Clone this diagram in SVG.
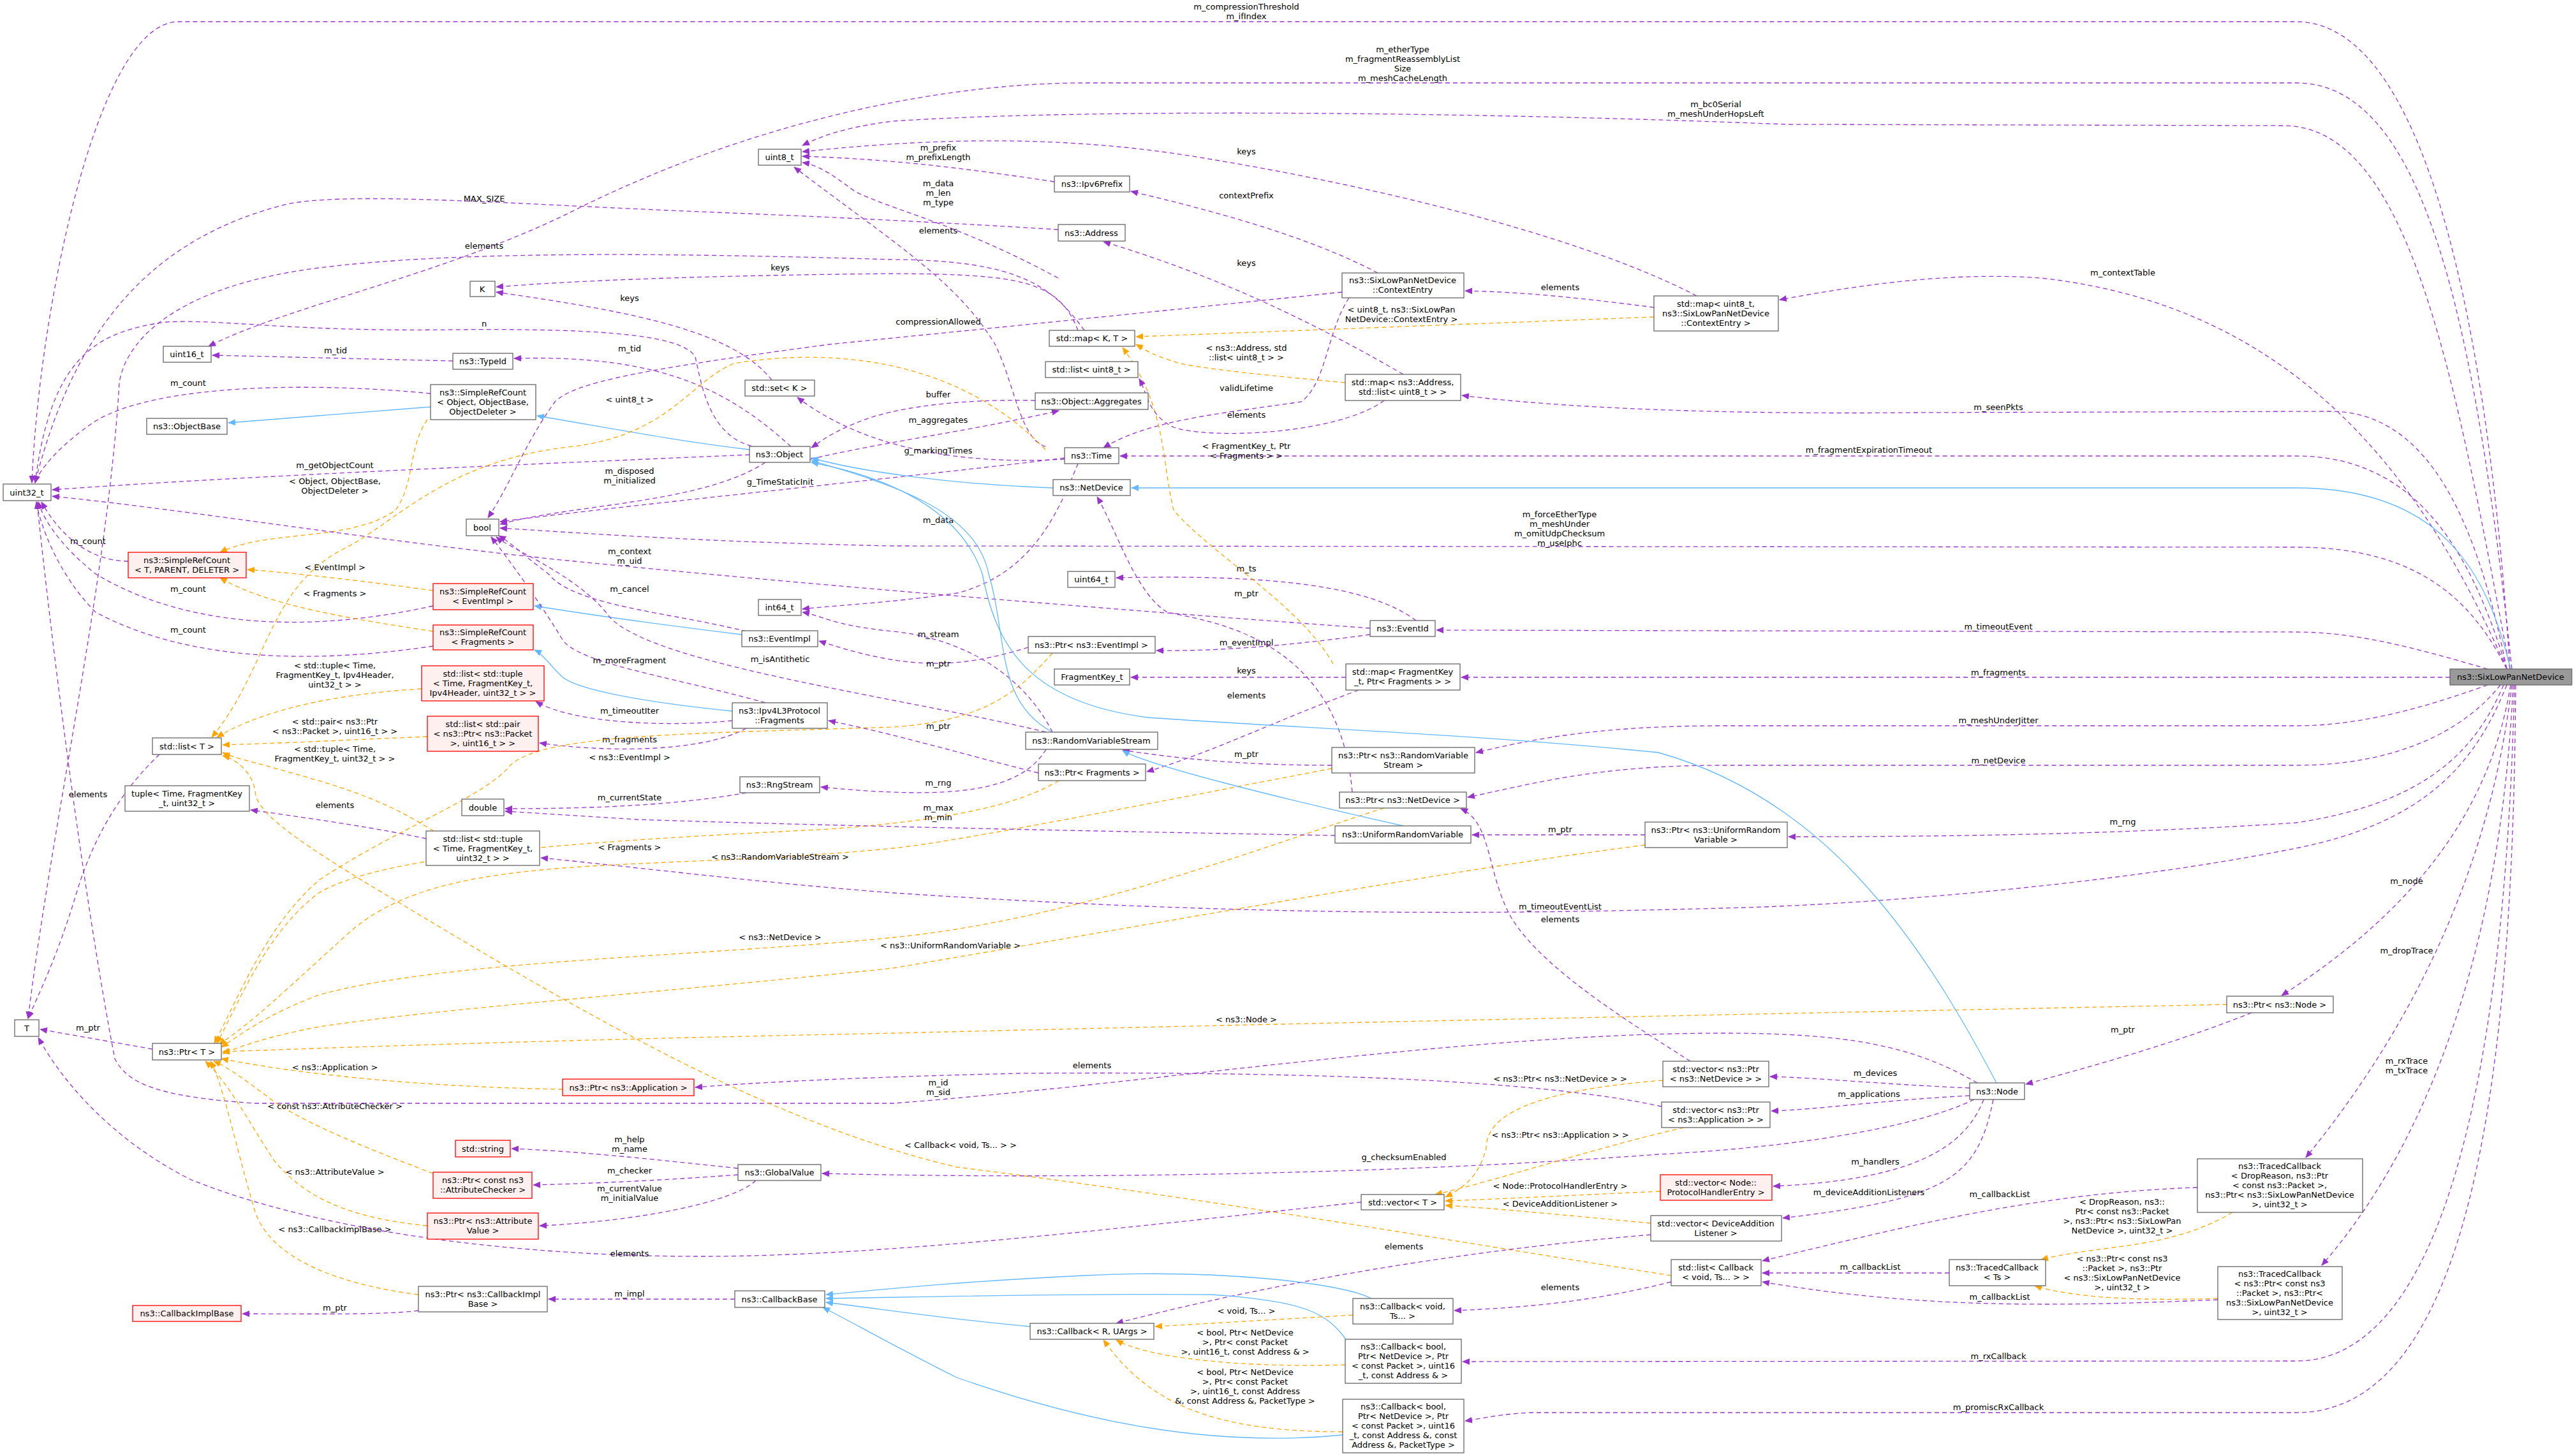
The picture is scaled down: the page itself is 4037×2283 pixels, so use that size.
<svg xmlns="http://www.w3.org/2000/svg" width="4037" height="2283" viewBox="0 0 4037 2283">
<style>
text{font-family:"DejaVu Sans","Liberation Sans",sans-serif;font-size:13px;fill:#000;text-anchor:middle}
.nd rect{fill:#fff;stroke:#666;stroke-width:1.3}
.rd rect{fill:#fff0f0;stroke:#f00;stroke-width:1.3}
.mn rect{fill:#999;stroke:#666;stroke-width:1.3}
.e{fill:none;stroke:#9a32cd;stroke-width:1.3;stroke-dasharray:7,5;marker-end:url(#mp)}
.o{fill:none;stroke:#ffa500;stroke-width:1.3;stroke-dasharray:7,5;marker-end:url(#mo)}
.b{fill:none;stroke:#63b8ff;stroke-width:1.3;marker-end:url(#mb)}
</style>
<defs>
<marker id="mp" markerWidth="12" markerHeight="10" refX="11" refY="5" orient="auto" markerUnits="userSpaceOnUse"><path d="M0,0L12,5L0,10z" fill="#9a32cd"/></marker>
<marker id="mo" markerWidth="12" markerHeight="10" refX="11" refY="5" orient="auto" markerUnits="userSpaceOnUse"><path d="M0,0L12,5L0,10z" fill="#ffa500"/></marker>
<marker id="mb" markerWidth="12" markerHeight="10" refX="11" refY="5" orient="auto" markerUnits="userSpaceOnUse"><path d="M0,0L12,5L0,10z" fill="#63b8ff"/></marker>
</defs>
<rect width="4037" height="2283" fill="#fff"/>
<g id="edges">
<path class="e" d="M3935,1049 C3900,500 3800,34 3600,34 L280,34 C150,34 60,500 50,757"/>
<text x="1954" y="15">m_compressionThreshold</text><text x="1954" y="30">m_ifIndex</text>
<path class="e" d="M3938,1049 C3880,500 3800,130 3600,130 L1700,130 C1500,130 1200,180 900,330 C700,430 450,480 327,543"/>
<text x="2199" y="82">m_etherType</text><text x="2199" y="97">m_fragmentReassemblyList</text><text x="2199" y="112">Size</text><text x="2199" y="127">m_meshCacheLength</text>
<path class="e" d="M3935,1049 C3850,600 3780,197 3580,197 L2800,195 C2300,175 1700,170 1400,190 C1320,200 1285,215 1258,228"/>
<text x="2690" y="168">m_bc0Serial</text><text x="2690" y="183">m_meshUnderHopsLeft</text>
<path class="e" d="M3930,1049 C3800,750 3600,480 3200,436 C3050,425 2900,450 2790,470"/>
<text x="3328" y="432">m_contextTable</text>
<path class="e" d="M3930,1049 C3880,800 3800,643 3650,645 L3000,647 C2700,650 2450,640 2292,620"/>
<text x="3133" y="643">m_seenPkts</text>
<path class="e" d="M3930,1049 C3870,850 3780,715 3600,715 L1756,715"/>
<text x="2930" y="710">m_fragmentExpirationTimeout</text>
<path class="b" d="M3936,1049 C3900,900 3830,765 3600,765 L1774,765"/>
<path class="e" d="M3930,1049 C3880,950 3800,858 3600,858 L1400,856 C1100,850 900,835 784,828"/>
<text x="2445" y="811">m_forceEtherType</text><text x="2445" y="826">m_meshUnder</text><text x="2445" y="841">m_omitUdpChecksum</text><text x="2445" y="856">m_useIphc</text>
<path class="e" d="M3900,1049 C3800,1020 3700,991 3600,991 L2252,988"/>
<text x="3133" y="987">m_timeoutEvent</text>
<path class="e" d="M3841,1062 L2291,1062"/>
<text x="3133" y="1059">m_fragments</text>
<path class="e" d="M3900,1074 C3800,1110 3700,1138 3600,1138 L2700,1138 C2500,1138 2400,1160 2314,1180"/>
<text x="3133" y="1134">m_meshUnderJitter</text>
<path class="e" d="M3920,1074 C3860,1150 3750,1200 3600,1200 L2700,1200 C2500,1200 2400,1230 2301,1250"/>
<text x="3133" y="1197">m_netDevice</text>
<path class="e" d="M3925,1074 C3880,1180 3800,1260 3600,1290 C3300,1310 3000,1312 2804,1312"/>
<text x="3328" y="1293">m_rng</text>
<path class="e" d="M3930,1074 C3880,1200 3800,1290 3600,1330 C3300,1390 2900,1420 2700,1424 C2400,1432 2000,1440 1400,1400 C1200,1385 1000,1360 848,1345"/>
<text x="2446" y="1426">m_timeoutEventList</text>
<path class="e" d="M3936,1074 C3900,1300 3750,1450 3577,1561"/>
<text x="3773" y="1386">m_node</text>
<path class="e" d="M3938,1074 C3900,1400 3750,1650 3615,1815"/>
<text x="3773" y="1495">m_dropTrace</text>
<path class="e" d="M3940,1074 C3920,1500 3800,1800 3640,1984"/>
<text x="3773" y="1668">m_rxTrace</text><text x="3773" y="1683">m_txTrace</text>
<path class="e" d="M3942,1074 C3930,1600 3850,2134 3600,2134 L2293,2135"/>
<text x="3133" y="2131">m_rxCallback</text>
<path class="e" d="M3944,1074 C3940,1700 3870,2215 3600,2215 L2400,2215 C2350,2217 2320,2225 2297,2228"/>
<text x="3133" y="2211">m_promiscRxCallback</text>
<path class="e" d="M3100,1698 C3000,1640 2900,1620 2700,1620 C2300,1620 1800,1700 1400,1730 L400,1730 C250,1720 200,1700 180,1660 C130,1400 80,1000 58,787"/>
<text x="1471" y="1702">m_id</text><text x="1471" y="1717">m_sid</text>
<path class="e" d="M1639,700 C1600,690 1590,600 1560,540 C1500,440 1400,380 1245,262"/>
<text x="1471" y="366">elements</text>
<path class="e" d="M1190,702 C1110,690 1100,600 1090,560 C1070,520 900,515 700,517 C450,520 350,500 260,505 C150,520 80,560 55,757"/>
<text x="759" y="512">n</text>
<path class="e" d="M710,566 L333,557"/>
<text x="526" y="554">m_tid</text>
<path class="e" d="M1240,700 C1150,620 1050,555 806,562"/>
<text x="987" y="551">m_tid</text>
<path class="e" d="M675,617 C500,600 250,600 150,660 C90,700 60,740 55,757"/>
<text x="295" y="605">m_count</text>
<path class="b" d="M675,638 L358,663"/>
<path class="b" d="M1175,705 C1050,690 950,670 842,652"/>
<path class="e" d="M1175,713 C900,725 400,745 82,768"/>
<text x="525" y="734">m_getObjectCount</text>
<path class="e" d="M1210,596 C1150,520 1000,490 778,458"/>
<text x="987" y="472">keys</text>
<path class="e" d="M1690,518 C1660,440 1600,430 1400,429 C1100,432 900,440 778,450"/>
<text x="1223" y="424">keys</text>
<path class="e" d="M1700,518 C1650,450 1600,408 1400,407 C1000,395 700,395 500,420 C300,445 200,520 187,600 C170,900 80,1300 44,1597"/>
<text x="759" y="390">elements</text>
<path class="e" d="M1659,360 C1500,350 1300,340 1100,332 C800,320 550,300 450,320 C250,370 120,500 55,757"/>
<text x="759" y="316">MAX_SIZE</text>
<path class="o" d="M1639,705 C1500,560 1300,545 1150,570 C1080,600 1050,680 900,700 C700,720 620,820 540,860 C420,920 420,1050 332,1156"/>
<text x="987" y="631">&lt; uint8_t &gt;</text>
<path class="o" d="M670,658 C640,700 650,760 620,800 C550,850 420,830 345,866"/>
<text x="525" y="759">&lt; Object, ObjectBase,</text><text x="525" y="774">ObjectDeleter &gt;</text>
<path class="e" d="M201,880 C150,880 100,850 65,787"/>
<text x="138" y="853">m_count</text>
<path class="e" d="M679,950 C500,990 300,990 150,900 C100,860 70,820 60,787"/>
<text x="295" y="928">m_count</text>
<path class="e" d="M679,1013 C500,1040 300,1040 150,960 C90,900 62,820 57,787"/>
<text x="295" y="992">m_count</text>
<path class="o" d="M679,926 C600,915 480,900 388,893"/>
<text x="525" y="894">&lt; EventImpl &gt;</text>
<path class="o" d="M679,990 C550,970 420,950 345,906"/>
<text x="525" y="935">&lt; Fragments &gt;</text>
<path class="b" d="M1163,995 C1000,975 900,960 838,950"/>
<path class="b" d="M1148,1115 C1000,1100 900,1080 880,1060 C860,1040 850,1025 838,1019"/>
<path class="e" d="M1170,990 C1050,960 900,950 860,900 C820,870 800,850 782,840"/>
<text x="987" y="928">m_cancel</text>
<path class="e" d="M1200,725 C1100,790 900,790 784,822"/>
<text x="987" y="743">m_disposed</text><text x="987" y="758">m_initialized</text>
<path class="e" d="M1669,718 C1500,740 1000,790 784,818"/>
<text x="1223" y="760">g_TimeStaticInit</text>
<path class="e" d="M1200,1102 C1050,1060 900,1040 880,1000 C850,950 800,880 770,842"/>
<text x="987" y="1040">m_moreFragment</text>
<path class="e" d="M1640,1148 C1400,1090 1000,1040 950,960 C900,900 800,860 778,842"/>
<text x="1223" y="1038">m_isAntithetic</text>
<path class="e" d="M1148,1130 C1050,1140 900,1135 840,1100"/>
<text x="987" y="1119">m_timeoutIter</text>
<path class="e" d="M1170,1142 C1100,1180 950,1180 846,1165"/>
<text x="987" y="1164">m_fragments</text>
<path class="o" d="M661,1080 C500,1090 400,1120 340,1156"/>
<text x="525" y="1048">&lt; std::tuple&lt; Time,</text><text x="525" y="1063">FragmentKey_t, Ipv4Header,</text><text x="525" y="1078">uint32_t &gt; &gt;</text>
<path class="o" d="M670,1155 C550,1160 450,1165 349,1168"/>
<text x="525" y="1136">&lt; std::pair&lt; ns3::Ptr</text><text x="525" y="1151">&lt; ns3::Packet &gt;, uint16_t &gt; &gt;</text>
<path class="o" d="M680,1303 C640,1280 600,1250 450,1210 C400,1195 370,1190 349,1180"/>
<text x="525" y="1179">&lt; std::tuple&lt; Time,</text><text x="525" y="1194">FragmentKey_t, uint32_t &gt; &gt;</text>
<path class="e" d="M668,1315 C600,1300 500,1285 393,1270"/>
<text x="525" y="1267">elements</text>
<path class="e" d="M250,1183 C200,1230 150,1300 120,1400 C90,1500 60,1560 44,1597"/>
<text x="138" y="1250">elements</text>
<path class="o" d="M2620,2000 C2300,1950 1900,1880 1500,1830 C1200,1760 900,1580 600,1400 C450,1310 400,1270 400,1240 C395,1210 370,1190 349,1185"/>
<text x="1506" y="1800">&lt; Callback&lt; void, Ts... &gt; &gt;</text>
<path class="e" d="M239,1645 L63,1614"/>
<text x="138" y="1616">m_ptr</text>
<path class="e" d="M656,2055 C600,2062 500,2060 380,2060"/>
<text x="525" y="2055">m_ptr</text>
<path class="e" d="M1152,2037 L860,2037"/>
<text x="987" y="2033">m_impl</text>
<path class="o" d="M656,2030 C500,2010 420,1960 400,1900 C370,1800 350,1700 330,1664"/>
<text x="525" y="1932">&lt; ns3::CallbackImplBase &gt;</text>
<path class="o" d="M670,1922 C550,1910 480,1880 430,1820 C390,1760 360,1700 322,1664"/>
<text x="525" y="1842">&lt; ns3::AttributeValue &gt;</text>
<path class="o" d="M679,1840 C600,1810 470,1760 420,1720 C380,1690 355,1672 335,1664"/>
<text x="525" y="1739">&lt; const ns3::AttributeChecker &gt;</text>
<path class="o" d="M882,1708 C700,1705 500,1690 347,1660"/>
<text x="525" y="1678">&lt; ns3::Application &gt;</text>
<path class="e" d="M1157,1832 C1000,1815 900,1805 802,1801"/>
<text x="987" y="1791">m_help</text><text x="987" y="1806">m_name</text>
<path class="e" d="M1157,1842 C1050,1850 950,1855 836,1858"/>
<text x="987" y="1840">m_checker</text>
<path class="e" d="M1185,1851 C1150,1885 1000,1915 846,1922"/>
<text x="987" y="1868">m_currentValue</text><text x="987" y="1883">m_initialValue</text>
<path class="o" d="M3491,1575 C3000,1585 2000,1605 1400,1620 C900,1630 600,1640 349,1649"/>
<text x="1954" y="1603">&lt; ns3::Node &gt;</text>
<path class="o" d="M2579,1325 C2300,1360 1800,1450 1400,1518 C1000,1560 700,1580 500,1610 C420,1625 380,1640 349,1652"/>
<text x="1490" y="1487">&lt; ns3::UniformRandomVariable &gt;</text>
<path class="o" d="M2170,1267 C2000,1320 1700,1440 1400,1470 C1100,1500 700,1505 500,1560 C420,1590 380,1620 347,1642"/>
<text x="1223" y="1474">&lt; ns3::NetDevice &gt;</text>
<path class="o" d="M2088,1205 C1800,1260 1500,1320 1400,1330 C1000,1370 700,1330 550,1460 C450,1550 400,1600 343,1638"/>
<text x="1223" y="1348">&lt; ns3::RandomVariableStream &gt;</text>
<path class="o" d="M1660,1224 C1600,1260 1500,1285 1300,1300 C900,1320 600,1340 500,1400 C420,1460 380,1560 340,1636"/>
<text x="987" y="1333">&lt; Fragments &gt;</text>
<path class="o" d="M1650,1024 C1600,1080 1550,1130 1400,1140 C1100,1150 850,1150 800,1200 C760,1250 620,1300 500,1380 C420,1450 380,1550 336,1636"/>
<text x="987" y="1192">&lt; ns3::EventImpl &gt;</text>
<path class="e" d="M1612,1015 C1500,1050 1420,1050 1284,1005"/>
<text x="1471" y="1045">m_ptr</text>
<path class="e" d="M2148,995 C2000,1015 1900,1021 1813,1020"/>
<text x="1954" y="1012">m_eventImpl</text>
<path class="e" d="M2220,973 C2150,920 2000,900 1750,906"/>
<text x="1954" y="896">m_ts</text>
<path class="e" d="M2148,985 C1800,960 1300,920 900,880 C600,850 300,800 82,778"/>
<text x="987" y="869">m_context</text><text x="987" y="884">m_uid</text>
<path class="e" d="M2120,1242 C2100,1000 1900,975 1830,960 C1780,930 1750,830 1720,779"/>
<text x="1954" y="935">m_ptr</text>
<path class="e" d="M1690,727 C1660,800 1620,900 1500,930 C1400,945 1300,950 1258,955"/>
<text x="1471" y="820">m_data</text>
<path class="e" d="M1669,720 C1500,730 1350,700 1250,623"/>
<text x="1471" y="711">g_markingTimes</text>
<path class="e" d="M1270,720 C1400,690 1500,680 1660,644"/>
<text x="1471" y="663">m_aggregates</text>
<path class="e" d="M1623,628 C1500,625 1400,640 1350,660 C1300,680 1290,690 1272,702"/>
<text x="1471" y="623">buffer</text>
<path class="e" d="M2104,458 C1800,490 1500,520 1300,540 C1000,580 900,600 870,630 C820,700 800,760 765,812"/>
<text x="1471" y="509">compressionAllowed</text>
<path class="e" d="M2160,428 C2050,370 1900,330 1773,300"/>
<text x="1954" y="311">contextPrefix</text>
<path class="e" d="M2115,467 C2080,520 2080,600 2040,630 C1900,650 1800,660 1730,702"/>
<text x="1954" y="613">validLifetime</text>
<path class="e" d="M2593,482 C2500,470 2400,458 2297,456"/>
<text x="2446" y="455">elements</text>
<path class="e" d="M2660,464 C2500,380 2200,300 1900,250 C1700,215 1500,212 1258,238"/>
<text x="1954" y="242">keys</text>
<path class="o" d="M2593,497 L1781,528"/>
<text x="2197" y="490">&lt; uint8_t, ns3::SixLowPan</text><text x="2197" y="505">NetDevice::ContextEntry &gt;</text>
<path class="o" d="M2109,600 C2000,590 1900,580 1850,570 C1800,555 1790,545 1781,540"/>
<text x="1954" y="550">&lt; ns3::Address, std</text><text x="1954" y="565">::list&lt; uint8_t &gt; &gt;</text>
<path class="o" d="M2090,1041 C2040,950 1900,870 1840,800 C1820,720 1830,640 1760,545"/>
<text x="1954" y="704">&lt; FragmentKey_t, Ptr</text><text x="1954" y="719">&lt; Fragments &gt; &gt;</text>
<path class="e" d="M2200,587 C2050,500 1900,430 1730,379"/>
<text x="1954" y="417">keys</text>
<path class="e" d="M2170,628 C2100,680 1900,690 1840,670 C1800,650 1800,620 1786,594"/>
<text x="1954" y="655">elements</text>
<path class="e" d="M2110,1062 L1773,1062"/>
<text x="1954" y="1056">keys</text>
<path class="e" d="M2130,1082 C2000,1130 1900,1180 1798,1210"/>
<text x="1954" y="1095">elements</text>
<path class="e" d="M1628,1212 C1500,1180 1400,1150 1299,1130"/>
<text x="1471" y="1143">m_ptr</text>
<path class="e" d="M1650,1148 C1600,1050 1500,1000 1400,990 C1300,980 1290,965 1258,960"/>
<text x="1471" y="999">m_stream</text>
<path class="e" d="M1640,1175 C1600,1240 1500,1255 1287,1234"/>
<text x="1471" y="1232">m_rng</text>
<path class="e" d="M2088,1200 C1950,1200 1850,1190 1760,1176"/>
<text x="1954" y="1187">m_ptr</text>
<path class="e" d="M1170,1243 C1050,1265 900,1268 792,1268"/>
<text x="987" y="1255">m_currentState</text>
<path class="e" d="M2093,1310 C1800,1305 1300,1295 1000,1285 L792,1272"/>
<text x="1471" y="1271">m_max</text><text x="1471" y="1286">m_min</text>
<path class="b" d="M2200,1295 C2000,1250 1800,1200 1760,1177"/>
<path class="b" d="M1650,1148 C1560,1100 1580,1000 1550,900 C1530,800 1400,760 1272,722"/>
<path class="b" d="M1651,765 C1500,760 1350,740 1272,718"/>
<path class="b" d="M3130,1698 C3000,1450 2850,1250 2600,1180 C2300,1150 2000,1140 1800,1125 C1600,1100 1560,1000 1540,900 C1500,780 1350,740 1272,725"/>
<path class="e" d="M2579,1309 L2308,1309"/>
<text x="2446" y="1305">m_ptr</text>
<path class="e" d="M3530,1588 C3400,1640 3250,1680 3176,1700"/>
<text x="3328" y="1619">m_ptr</text>
<path class="e" d="M3088,1706 C2950,1700 2850,1690 2775,1688"/>
<text x="2940" y="1687">m_devices</text>
<path class="e" d="M3088,1718 C2950,1725 2850,1740 2777,1742"/>
<text x="2930" y="1720">m_applications</text>
<path class="e" d="M3095,1724 C3000,1770 2800,1800 2600,1810 C2200,1840 1700,1850 1289,1840"/>
<text x="2201" y="1819">g_checksumEnabled</text>
<path class="e" d="M3110,1724 C3080,1800 3000,1850 2780,1860"/>
<text x="2940" y="1826">m_handlers</text>
<path class="e" d="M3125,1724 C3100,1850 3050,1880 2795,1910"/>
<text x="2930" y="1874">m_deviceAdditionListeners</text>
<path class="e" d="M2605,1735 C2400,1690 2000,1680 1600,1683 C1300,1690 1150,1700 1090,1705"/>
<text x="1712" y="1675">elements</text>
<path class="e" d="M2650,1664 C2550,1600 2420,1520 2370,1440 C2330,1370 2340,1290 2290,1268"/>
<text x="2446" y="1446">elements</text>
<path class="o" d="M2607,1694 C2400,1710 2330,1750 2330,1800 C2320,1840 2300,1860 2266,1877"/>
<text x="2446" y="1696">&lt; ns3::Ptr&lt; ns3::NetDevice &gt; &gt;</text>
<path class="o" d="M2640,1768 C2500,1800 2350,1850 2250,1873"/>
<text x="2446" y="1784">&lt; ns3::Ptr&lt; ns3::Application &gt; &gt;</text>
<path class="o" d="M2603,1868 C2450,1875 2350,1880 2266,1883"/>
<text x="2446" y="1864">&lt; Node::ProtocolHandlerEntry &gt;</text>
<path class="o" d="M2588,1918 C2450,1905 2350,1895 2266,1890"/>
<text x="2446" y="1892">&lt; DeviceAdditionListener &gt;</text>
<path class="e" d="M2134,1885 C1800,1920 1400,1970 1100,1970 C800,1970 500,1930 300,1850 C180,1790 100,1700 60,1627"/>
<text x="987" y="1970">elements</text>
<path class="e" d="M2588,1936 C2300,1960 2000,2010 1750,2075"/>
<text x="2201" y="1959">elements</text>
<path class="e" d="M2620,2010 C2500,2040 2400,2050 2280,2055"/>
<text x="2446" y="2023">elements</text>
<path class="e" d="M3445,1862 C3200,1870 3000,1920 2763,1977"/>
<text x="3135" y="1877">m_callbackList</text>
<path class="e" d="M3056,1996 L2763,1996"/>
<text x="2932" y="1991">m_callbackList</text>
<path class="e" d="M3477,2038 C3200,2050 3000,2050 2763,2010"/>
<text x="3135" y="2038">m_callbackList</text>
<path class="o" d="M3500,1901 C3400,1960 3300,1950 3200,1975"/>
<text x="3327" y="1889">&lt; DropReason, ns3::</text><text x="3327" y="1904">Ptr&lt; const ns3::Packet</text><text x="3327" y="1919">&gt;, ns3::Ptr&lt; ns3::SixLowPan</text><text x="3327" y="1934">NetDevice &gt;, uint32_t &gt;</text>
<path class="o" d="M3477,2036 C3350,2040 3250,2035 3190,2016"/>
<text x="3327" y="1978">&lt; ns3::Ptr&lt; const ns3</text><text x="3327" y="1993">::Packet &gt;, ns3::Ptr</text><text x="3327" y="2008">&lt; ns3::SixLowPanNetDevice</text><text x="3327" y="2023">&gt;, uint32_t &gt;</text>
<path class="b" d="M2150,2036 C2100,2010 1900,1990 1700,2000 C1500,2010 1400,2020 1295,2030"/>
<path class="b" d="M2110,2100 C2080,2060 2050,2040 1900,2030 C1700,2028 1450,2033 1295,2036"/>
<path class="b" d="M1615,2080 C1500,2070 1400,2055 1295,2042"/>
<path class="b" d="M2105,2250 C1900,2270 1700,2230 1500,2160 C1400,2110 1330,2070 1290,2050"/>
<path class="o" d="M2121,2062 L1811,2080"/>
<text x="1954" y="2060">&lt; void, Ts... &gt;</text>
<path class="o" d="M2109,2140 C1950,2145 1800,2130 1750,2101"/>
<text x="1952" y="2094">&lt; bool, Ptr&lt; NetDevice</text><text x="1952" y="2109">&gt;, Ptr&lt; const Packet</text><text x="1952" y="2124">&gt;, uint16_t, const Address &amp; &gt;</text>
<path class="o" d="M2105,2245 C1900,2245 1800,2200 1730,2101"/>
<text x="1952" y="2156">&lt; bool, Ptr&lt; NetDevice</text><text x="1952" y="2171">&gt;, Ptr&lt; const Packet</text><text x="1952" y="2186">&gt;, uint16_t, const Address</text><text x="1952" y="2201">&amp;, const Address &amp;, PacketType &gt;</text>
<path class="e" d="M1653,285 C1500,262 1400,250 1258,245"/>
<text x="1471" y="236">m_prefix</text><text x="1471" y="251">m_prefixLength</text>
<path class="e" d="M1659,436 C1500,350 1400,330 1340,300 C1300,270 1280,258 1258,255"/>
<text x="1471" y="292">m_data</text><text x="1471" y="307">m_len</text><text x="1471" y="322">m_type</text>
</g>
<g id="n1" class="nd"><rect x="5" y="759" width="75" height="26"/><text x="42" y="777">uint32_t</text></g>
<g id="n2" class="nd"><rect x="1189" y="234" width="67" height="25"/><text x="1222" y="251">uint8_t</text></g>
<g id="n3" class="nd"><rect x="737" y="441" width="39" height="24"/><text x="756" y="458">K</text></g>
<g id="n4" class="nd"><rect x="256" y="543" width="75" height="25"/><text x="293" y="560">uint16_t</text></g>
<g id="n5" class="nd"><rect x="710" y="554" width="94" height="25"/><text x="757" y="571">ns3::TypeId</text></g>
<g id="n6" class="nd"><rect x="675" y="603" width="165" height="55"/><text x="757" y="620">ns3::SimpleRefCount</text><text x="757" y="635">&lt; Object, ObjectBase,</text><text x="757" y="650">ObjectDeleter &gt;</text></g>
<g id="n7" class="nd"><rect x="230" y="656" width="126" height="25"/><text x="293" y="673">ns3::ObjectBase</text></g>
<g id="n8" class="nd"><rect x="1168" y="596" width="109" height="25"/><text x="1222" y="613">std::set&lt; K &gt;</text></g>
<g id="n9" class="nd"><rect x="1175" y="700" width="95" height="25"/><text x="1222" y="717">ns3::Object</text></g>
<g id="n10" class="nd"><rect x="731" y="814" width="51" height="26"/><text x="756" y="832">bool</text></g>
<g id="n11" class="rd"><rect x="201" y="866" width="185" height="40"/><text x="293" y="883">ns3::SimpleRefCount</text><text x="293" y="898">&lt; T, PARENT, DELETER &gt;</text></g>
<g id="n12" class="rd"><rect x="679" y="915" width="157" height="41"/><text x="757" y="932">ns3::SimpleRefCount</text><text x="757" y="947">&lt; EventImpl &gt;</text></g>
<g id="n13" class="rd"><rect x="679" y="980" width="157" height="39"/><text x="757" y="996">ns3::SimpleRefCount</text><text x="757" y="1011">&lt; Fragments &gt;</text></g>
<g id="n14" class="nd"><rect x="1189" y="940" width="67" height="25"/><text x="1222" y="957">int64_t</text></g>
<g id="n15" class="nd"><rect x="1163" y="989" width="119" height="25"/><text x="1222" y="1006">ns3::EventImpl</text></g>
<g id="n16" class="rd"><rect x="661" y="1044" width="192" height="55"/><text x="757" y="1061">std::list&lt; std::tuple</text><text x="757" y="1076">&lt; Time, FragmentKey_t,</text><text x="757" y="1091">Ipv4Header, uint32_t &gt; &gt;</text></g>
<g id="n17" class="nd"><rect x="1148" y="1102" width="149" height="40"/><text x="1222" y="1119">ns3::Ipv4L3Protocol</text><text x="1222" y="1134">::Fragments</text></g>
<g id="n18" class="nd"><rect x="1653" y="276" width="118" height="25"/><text x="1712" y="293">ns3::Ipv6Prefix</text></g>
<g id="n19" class="nd"><rect x="1659" y="352" width="105" height="26"/><text x="1711" y="370">ns3::Address</text></g>
<g id="n20" class="nd"><rect x="2104" y="428" width="191" height="39"/><text x="2199" y="444">ns3::SixLowPanNetDevice</text><text x="2199" y="459">::ContextEntry</text></g>
<g id="n21" class="nd"><rect x="2593" y="464" width="195" height="55"/><text x="2690" y="481">std::map&lt; uint8_t,</text><text x="2690" y="496">ns3::SixLowPanNetDevice</text><text x="2690" y="511">::ContextEntry &gt;</text></g>
<g id="n22" class="nd"><rect x="1645" y="518" width="134" height="25"/><text x="1712" y="535">std::map&lt; K, T &gt;</text></g>
<g id="n23" class="nd"><rect x="1639" y="567" width="145" height="25"/><text x="1711" y="584">std::list&lt; uint8_t &gt;</text></g>
<g id="n24" class="nd"><rect x="1623" y="616" width="177" height="26"/><text x="1711" y="634">ns3::Object::Aggregates</text></g>
<g id="n25" class="nd"><rect x="2109" y="587" width="181" height="41"/><text x="2199" y="604">std::map&lt; ns3::Address,</text><text x="2199" y="619">std::list&lt; uint8_t &gt; &gt;</text></g>
<g id="n26" class="nd"><rect x="1669" y="702" width="85" height="25"/><text x="1711" y="719">ns3::Time</text></g>
<g id="n27" class="nd"><rect x="1651" y="752" width="121" height="25"/><text x="1711" y="769">ns3::NetDevice</text></g>
<g id="n28" class="nd"><rect x="1674" y="896" width="74" height="25"/><text x="1711" y="913">uint64_t</text></g>
<g id="n29" class="nd"><rect x="2148" y="973" width="102" height="25"/><text x="2199" y="990">ns3::EventId</text></g>
<g id="n30" class="nd"><rect x="1612" y="998" width="199" height="26"/><text x="1711" y="1016">ns3::Ptr&lt; ns3::EventImpl &gt;</text></g>
<g id="n31" class="nd"><rect x="1653" y="1049" width="118" height="25"/><text x="1712" y="1066">FragmentKey_t</text></g>
<g id="n32" class="nd"><rect x="2110" y="1041" width="179" height="41"/><text x="2199" y="1058">std::map&lt; FragmentKey</text><text x="2199" y="1073">_t, Ptr&lt; Fragments &gt; &gt;</text></g>
<g id="n33" class="mn"><rect x="3841" y="1049" width="191" height="25"/><text x="3936" y="1066">ns3::SixLowPanNetDevice</text></g>
<g id="n34" class="rd"><rect x="670" y="1123" width="174" height="55"/><text x="757" y="1140">std::list&lt; std::pair</text><text x="757" y="1155">&lt; ns3::Ptr&lt; ns3::Packet</text><text x="757" y="1170">&gt;, uint16_t &gt; &gt;</text></g>
<g id="n35" class="nd"><rect x="239" y="1157" width="108" height="26"/><text x="293" y="1175">std::list&lt; T &gt;</text></g>
<g id="n36" class="nd"><rect x="196" y="1232" width="195" height="40"/><text x="293" y="1249">tuple&lt; Time, FragmentKey</text><text x="293" y="1264">_t, uint32_t &gt;</text></g>
<g id="n37" class="nd"><rect x="724" y="1253" width="66" height="26"/><text x="757" y="1271">double</text></g>
<g id="n38" class="nd"><rect x="668" y="1303" width="178" height="54"/><text x="757" y="1320">std::list&lt; std::tuple</text><text x="757" y="1335">&lt; Time, FragmentKey_t,</text><text x="757" y="1350">uint32_t &gt; &gt;</text></g>
<g id="n39" class="nd"><rect x="1160" y="1218" width="125" height="25"/><text x="1222" y="1235">ns3::RngStream</text></g>
<g id="n40" class="nd"><rect x="23" y="1599" width="38" height="26"/><text x="42" y="1617">T</text></g>
<g id="n41" class="nd"><rect x="239" y="1636" width="108" height="26"/><text x="293" y="1654">ns3::Ptr&lt; T &gt;</text></g>
<g id="n42" class="rd"><rect x="882" y="1692" width="206" height="26"/><text x="985" y="1710">ns3::Ptr&lt; ns3::Application &gt;</text></g>
<g id="n43" class="rd"><rect x="714" y="1788" width="86" height="26"/><text x="757" y="1806">std::string</text></g>
<g id="n44" class="nd"><rect x="1157" y="1826" width="130" height="25"/><text x="1222" y="1843">ns3::GlobalValue</text></g>
<g id="n45" class="rd"><rect x="679" y="1838" width="155" height="41"/><text x="757" y="1855">ns3::Ptr&lt; const ns3</text><text x="757" y="1870">::AttributeChecker &gt;</text></g>
<g id="n46" class="rd"><rect x="670" y="1902" width="174" height="41"/><text x="757" y="1919">ns3::Ptr&lt; ns3::Attribute</text><text x="757" y="1934">Value &gt;</text></g>
<g id="n47" class="nd"><rect x="656" y="2017" width="202" height="40"/><text x="757" y="2034">ns3::Ptr&lt; ns3::CallbackImpl</text><text x="757" y="2049">Base &gt;</text></g>
<g id="n48" class="rd"><rect x="208" y="2047" width="170" height="25"/><text x="293" y="2064">ns3::CallbackImplBase</text></g>
<g id="n49" class="nd"><rect x="1152" y="2024" width="141" height="26"/><text x="1222" y="2042">ns3::CallbackBase</text></g>
<g id="n50" class="nd"><rect x="1608" y="1148" width="207" height="27"/><text x="1711" y="1166">ns3::RandomVariableStream</text></g>
<g id="n51" class="nd"><rect x="1628" y="1198" width="168" height="26"/><text x="1712" y="1216">ns3::Ptr&lt; Fragments &gt;</text></g>
<g id="n52" class="nd"><rect x="2088" y="1172" width="224" height="40"/><text x="2200" y="1189">ns3::Ptr&lt; ns3::RandomVariable</text><text x="2200" y="1204">Stream &gt;</text></g>
<g id="n53" class="nd"><rect x="2100" y="1242" width="199" height="25"/><text x="2199" y="1259">ns3::Ptr&lt; ns3::NetDevice &gt;</text></g>
<g id="n54" class="nd"><rect x="2093" y="1295" width="213" height="27"/><text x="2199" y="1313">ns3::UniformRandomVariable</text></g>
<g id="n55" class="nd"><rect x="2579" y="1289" width="223" height="40"/><text x="2690" y="1306">ns3::Ptr&lt; ns3::UniformRandom</text><text x="2690" y="1321">Variable &gt;</text></g>
<g id="n56" class="nd"><rect x="2607" y="1664" width="166" height="40"/><text x="2690" y="1681">std::vector&lt; ns3::Ptr</text><text x="2690" y="1696">&lt; ns3::NetDevice &gt; &gt;</text></g>
<g id="n57" class="nd"><rect x="2605" y="1728" width="170" height="40"/><text x="2690" y="1745">std::vector&lt; ns3::Ptr</text><text x="2690" y="1760">&lt; ns3::Application &gt; &gt;</text></g>
<g id="n58" class="rd"><rect x="2603" y="1842" width="175" height="40"/><text x="2690" y="1859">std::vector&lt; Node::</text><text x="2690" y="1874">ProtocolHandlerEntry &gt;</text></g>
<g id="n59" class="nd"><rect x="2134" y="1873" width="130" height="24"/><text x="2199" y="1890">std::vector&lt; T &gt;</text></g>
<g id="n60" class="nd"><rect x="2588" y="1906" width="205" height="40"/><text x="2690" y="1923">std::vector&lt; DeviceAddition</text><text x="2690" y="1938">Listener &gt;</text></g>
<g id="n61" class="nd"><rect x="2620" y="1975" width="141" height="41"/><text x="2690" y="1992">std::list&lt; Callback</text><text x="2690" y="2007">&lt; void, Ts... &gt; &gt;</text></g>
<g id="n62" class="nd"><rect x="2121" y="2036" width="157" height="40"/><text x="2199" y="2053">ns3::Callback&lt; void,</text><text x="2199" y="2068">Ts... &gt;</text></g>
<g id="n63" class="nd"><rect x="1615" y="2075" width="194" height="25"/><text x="1712" y="2092">ns3::Callback&lt; R, UArgs &gt;</text></g>
<g id="n64" class="nd"><rect x="2109" y="2100" width="182" height="69"/><text x="2200" y="2116">ns3::Callback&lt; bool,</text><text x="2200" y="2131">Ptr&lt; NetDevice &gt;, Ptr</text><text x="2200" y="2146">&lt; const Packet &gt;, uint16</text><text x="2200" y="2161">_t, const Address &amp; &gt;</text></g>
<g id="n65" class="nd"><rect x="2105" y="2194" width="190" height="84"/><text x="2200" y="2210">ns3::Callback&lt; bool,</text><text x="2200" y="2225">Ptr&lt; NetDevice &gt;, Ptr</text><text x="2200" y="2240">&lt; const Packet &gt;, uint16</text><text x="2200" y="2255">_t, const Address &amp;, const</text><text x="2200" y="2270">Address &amp;, PacketType &gt;</text></g>
<g id="n66" class="nd"><rect x="3491" y="1562" width="167" height="26"/><text x="3574" y="1580">ns3::Ptr&lt; ns3::Node &gt;</text></g>
<g id="n67" class="nd"><rect x="3088" y="1698" width="86" height="26"/><text x="3131" y="1716">ns3::Node</text></g>
<g id="n68" class="nd"><rect x="3445" y="1817" width="259" height="84"/><text x="3574" y="1833">ns3::TracedCallback</text><text x="3574" y="1848">&lt; DropReason, ns3::Ptr</text><text x="3574" y="1863">&lt; const ns3::Packet &gt;,</text><text x="3574" y="1878">ns3::Ptr&lt; ns3::SixLowPanNetDevice</text><text x="3574" y="1893">&gt;, uint32_t &gt;</text></g>
<g id="n69" class="nd"><rect x="3056" y="1975" width="151" height="41"/><text x="3131" y="1992">ns3::TracedCallback</text><text x="3131" y="2007">&lt; Ts &gt;</text></g>
<g id="n70" class="nd"><rect x="3477" y="1986" width="195" height="83"/><text x="3574" y="2002">ns3::TracedCallback</text><text x="3574" y="2017">&lt; ns3::Ptr&lt; const ns3</text><text x="3574" y="2032">::Packet &gt;, ns3::Ptr&lt;</text><text x="3574" y="2047">ns3::SixLowPanNetDevice</text><text x="3574" y="2062">&gt;, uint32_t &gt;</text></g>
</svg>
